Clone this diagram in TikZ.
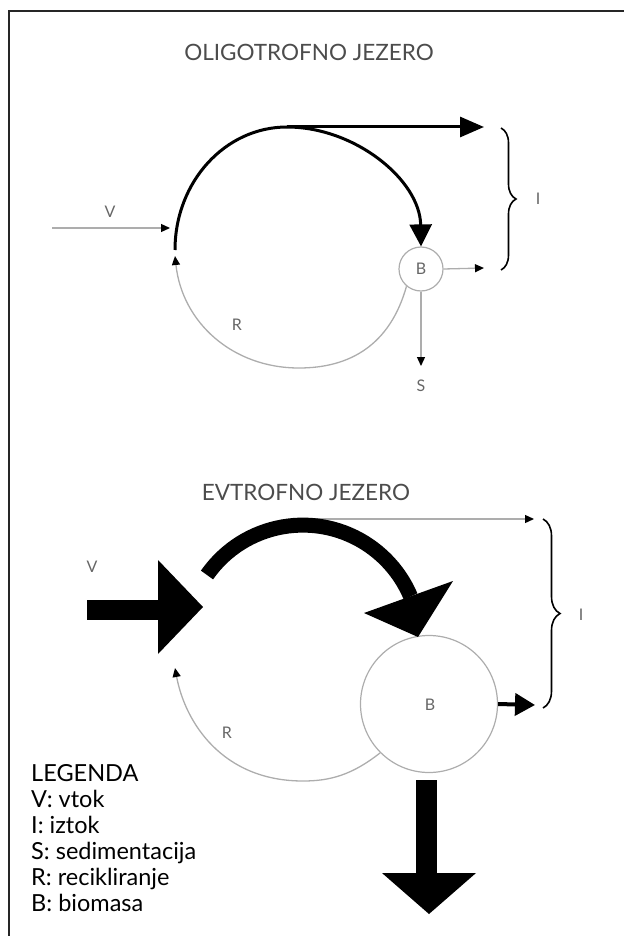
\documentclass[tikz,border=0pt]{standalone}
\usepackage{fontspec}
\setmainfont{Lato}
\usetikzlibrary{arrows.meta,decorations.pathreplacing}
\definecolor{thin}{gray}{0.68}
\definecolor{lab}{gray}{0.40}
\definecolor{ttl}{gray}{0.30}
\begin{document}
\begin{tikzpicture}[x=1pt,y=-1pt,
  thinline/.style={draw=thin, line width=1.3pt},
  smallhead/.style={-{Triangle[length=9pt,width=8pt,color=black]}},
  heavy/.style={draw=black, line width=3pt},
  lbl/.style={text=lab, font=\fontsize{16}{18}\selectfont, inner sep=0pt},
  ttlstyle/.style={text=ttl, font=\fontsize{22.5}{24}\selectfont, inner sep=0pt},
  bnode/.style={circle, draw=thin, line width=1.2pt, inner sep=0pt},
  bracestyle/.style={draw=black, line width=1.6pt, decorate},
  legline/.style={anchor=base west, font=\fontsize{23.5}{26}\selectfont, inner sep=0pt}
]
\useasboundingbox (0,0) rectangle (624,936);
% frame
\draw[line width=2pt, draw=black!85] (9,936) -- (9,11) -- (624,11);

% ---------- top: oligotrofno ----------
\node[ttlstyle] (t1) at (309,52) {OLIGOTROFNO JEZERO};
\node[bnode, minimum size=44pt] (b1) at (421,269) {};
\node[lbl] (b1l) at (421,269) {B};
\coordinate (arcL1) at (175,250);
\coordinate (top1) at (287,127);
\coordinate (outI1) at (484,127);
\coordinate (vS1) at (52,228);
\coordinate (vE1) at (170,228);
\coordinate (bR1) at (484,268);
\coordinate (sE1) at (421,366);
\coordinate (rE1) at (175,256);
\draw[heavy] (arcL1) .. controls (175,182) and (225,127) .. (top1);
\draw[heavy, -{Triangle[length=24pt,width=20pt]}] (top1) -- (outI1);
\draw[heavy, -{Triangle[length=22pt,width=22pt]}] (top1) .. controls (355,127) and (420,180) .. (b1.north);
\draw[thinline, smallhead] (vS1) -- (vE1);
\draw[thinline, smallhead] (b1.east) -- (bR1);
\draw[thinline, smallhead] (b1.south) -- (sE1);
\draw[thinline, smallhead] (b1.230) .. controls (390,345) and (350,368) .. (299,368)
   .. controls (232,368) and (182,322) .. (rE1);
\node[lbl] (v1) at (110,212) {V};
\node[lbl] (r1) at (237,325) {R};
\node[lbl] (s1) at (421,386) {S};
\draw[bracestyle, decoration={brace, amplitude=15pt}] (501,128) -- (501,270);
\node[lbl] (i1) at (538,199) {I};

% ---------- bottom: evtrofno ----------
\node[ttlstyle] (t2) at (306,492) {EVTROFNO JEZERO};
\node[bnode, minimum size=137pt] (b2) at (429,704) {};
\node[lbl] (b2l) at (430,705) {B};
\coordinate (outI2) at (534,519);
\coordinate (top2) at (311,519);
\draw[thinline, smallhead] (top2) -- (outI2);
% thick curved arc
\draw[draw=black, line width=15pt] (207,575) arc[start angle=145, end angle=23, radius=117pt];
\fill[black] (364,613) -- (453,581) -- (418,637) -- cycle;
% V thick arrow
\fill[black] (87,600) rectangle (160,620);
\fill[black] (158,560) -- (203,607) -- (158,654) -- cycle;
% right arrow out of B
\coordinate (bR2) at (535,705);
\draw[draw=black, line width=4pt, -{Triangle[length=20pt,width=22pt]}] (b2.east) -- (bR2);
% R arc
\coordinate (rE2) at (175,668);
\draw[thinline, smallhead] (b2.225) .. controls (352,775) and (330,781) .. (303,781)
   .. controls (222,781) and (185,722) .. (rE2);
% sedimentation big arrow
\fill[black] (416,780) rectangle (437,873);
\fill[black] (382,873) -- (476,873) -- (429,914) -- cycle;
\node[lbl] (v2) at (92,567) {V};
\node[lbl] (r2) at (227,733) {R};
\draw[bracestyle, decoration={brace, amplitude=17pt}] (543,519) -- (543,708);
\node[lbl] (i2) at (581,615) {I};

% legend
\node[legline] (lg0) at (31,781) {LEGENDA};
\node[legline] (lg1) at (31,807) {V: vtok};
\node[legline] (lg2) at (31,833) {I: iztok};
\node[legline] (lg3) at (31,859) {S: sedimentacija};
\node[legline] (lg4) at (31,885) {R: recikliranje};
\node[legline] (lg5) at (31,911) {B: biomasa};
\end{tikzpicture}
\end{document}
